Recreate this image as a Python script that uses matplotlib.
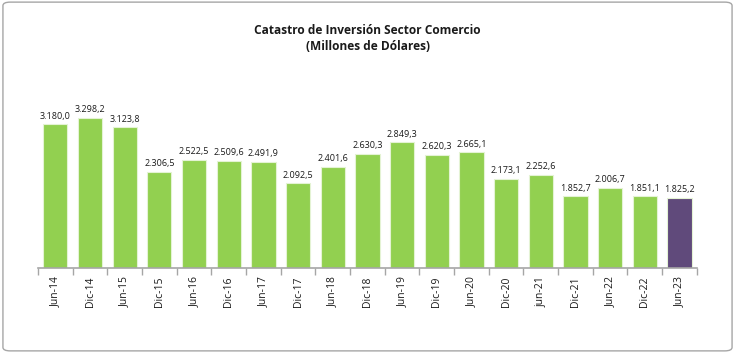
import numpy as np
import matplotlib.pyplot as plt
from matplotlib.patches import FancyBboxPatch

# datos del grafico
periodos = ["Jun-14", "Dic-14", "Jun-15", "Dic-15", "Jun-16", "Dic-16", "Jun-17", "Dic-17",
            "Jun-18", "Dic-18", "Jun-19", "Dic-19", "Jun-20", "Dic-20", "jun-21", "Dic-21",
            "Jun-22", "Dic-22", "Jun-23"]
valores = [3180.0, 3298.2, 3123.8, 2306.5, 2522.5, 2509.6, 2491.9, 2092.5,
           2401.6, 2630.3, 2849.3, 2620.3, 2665.1, 2173.1, 2252.6, 1852.7,
           2006.7, 1851.1, 1825.2]
etiquetas = ["3.180,0", "3.298,2", "3.123,8", "2.306,5", "2.522,5", "2.509,6", "2.491,9", "2.092,5",
             "2.401,6", "2.630,3", "2.849,3", "2.620,3", "2.665,1", "2.173,1", "2.252,6", "1.852,7",
             "2.006,7", "1.851,1", "1.825,2"]

plt.rcParams['font.family'] = ['Open Sans', 'DejaVu Sans']

fig = plt.figure(figsize=(7.35, 3.53), dpi=100)
# marco gris alrededor de la figura
marco = FancyBboxPatch((0.004, 0.006), 0.992, 0.988, boxstyle="round,pad=0,rounding_size=0.01",
                       transform=fig.transFigure, facecolor='white', edgecolor='#a6a6a6',
                       linewidth=1, zorder=-10)
fig.patches.append(marco)

ax = fig.add_axes([0.0517, 0.2408, 0.8963, 0.5127])
ax.set_facecolor('none')

x = np.arange(len(valores))
colores = ['#92D050'] * (len(valores) - 1) + ['#604A7B']
barras = ax.bar(x, valores, width=0.7, color=colores, edgecolor='#e4f3d4', linewidth=0.8)

for xi, v, t in zip(x, valores, etiquetas):
    ax.text(xi, v + 70, t, ha='center', va='bottom', fontsize=6.5, color='#1a1a1a')

ax.set_xlim(-0.5, len(valores) - 0.5)
ax.set_ylim(530, 3870)  # el eje no parte en cero
ax.set_yticks([])
for s in ['top', 'right', 'left']:
    ax.spines[s].set_visible(False)
ax.spines['bottom'].set_color('#a6a6a6')
ax.spines['bottom'].set_linewidth(1.2)

ax.set_xticks(x)
ax.set_xticklabels(periodos, rotation=90, fontsize=7.5, color='#1a1a1a')
ax.tick_params(axis='x', which='major', length=0, pad=6)
ax.set_xticks(np.arange(-0.5, len(valores)), minor=True)
ax.tick_params(axis='x', which='minor', length=5, color='#a6a6a6', width=1)

fig.text(0.5, 0.915, 'Catastro de Inversión Sector Comercio', ha='center', va='center',
         fontsize=8.6, fontweight='bold', color='#1a1a1a')
fig.text(0.5, 0.867, '(Millones de Dólares)', ha='center', va='center',
         fontsize=8.6, fontweight='bold', color='#1a1a1a')

plt.savefig("out.png", dpi=100)
